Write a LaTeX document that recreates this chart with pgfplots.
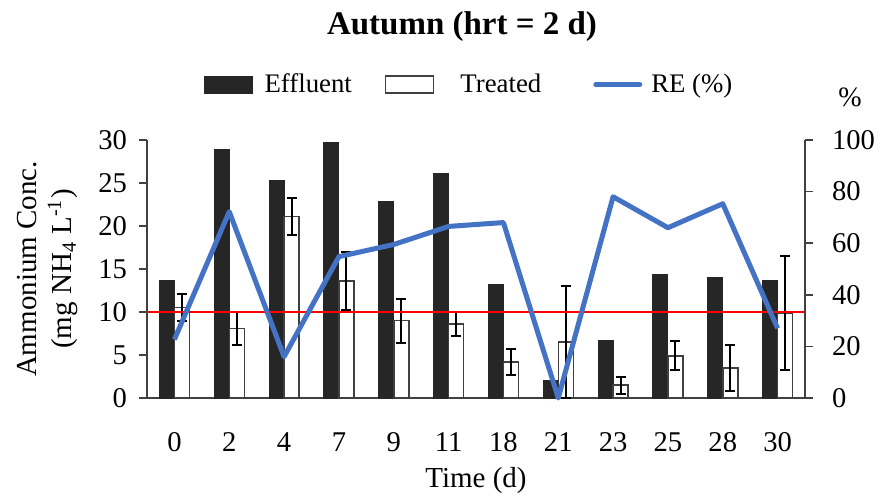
\documentclass[border=0pt]{standalone}
\usepackage{pgfplots}
\pgfplotsset{compat=1.18}
\usepackage{pgfplotstable}
\usepackage{fontspec}
\setmainfont{Liberation Serif}
\definecolor{reblue}{HTML}{4472C4}
\definecolor{barblack}{HTML}{262626}
\definecolor{axgray}{HTML}{404040}

\pgfplotstableread{
x e t te re
0 13.7 10.5 1.6 22.7
1 28.9 8.1 1.9 72.2
2 25.3 21.1 2.2 16.0
3 29.7 13.6 3.4 54.8
4 22.9 9.0 2.55 59.5
5 26.1 8.6 1.35 66.5
6 13.2 4.2 1.5 68.0
7 2.0 6.5 6.5 0.0
8 6.7 1.5 1.0 78.0
9 14.4 4.9 1.7 66.0
10 14.0 3.5 2.7 75.3
11 13.7 9.9 6.6 27.0
}\datatable

\begin{document}
\begin{tikzpicture}
\useasboundingbox (-73.5pt,-50pt) rectangle (367.5pt,199pt);
\begin{axis}[
  at={(0pt,0pt)}, anchor=south west,
  scale only axis, width=329pt, height=129pt,
  xmin=-0.5, xmax=11.5, ymin=0, ymax=30,
  axis x line*=bottom, axis y line*=left,
  axis line style={-, axgray, line width=0.75pt},
  xtick={0,...,11},
  xticklabels={0,2,4,7,9,11,18,21,23,25,28,30},
  major x tick style={draw=none},
  ytick={0,5,...,30},
  tick align=outside,
  major tick length=4pt,
  major y tick style={axgray, line width=0.75pt},
  /pgf/number format/assume math mode=true,
  ticklabel style={font=\fontsize{14.3}{16}\selectfont},
  xticklabel style={anchor=center, yshift=-18pt},
  yticklabel style={xshift=-2.5pt},
  ybar=0pt, bar width=7.5pt,
  xlabel={Time (d)},
  xlabel style={font=\fontsize{14.5}{17}\selectfont, at={(axis description cs:0.5,-0.32)}, anchor=center},
  ylabel={Ammonium Conc.\\(mg NH\textsubscript{4} L\textsuperscript{-1})},
  ylabel style={font=\fontsize{14.5}{17.5}\selectfont, align=center, at={(axis description cs:-0.151,0.5)}, anchor=center, rotate=0},
  legend columns=3,
  legend style={draw=none, fill=none, at={(0.5,1)}, anchor=south, yshift=18pt, xshift=-3pt,
    font=\fontsize{13.4}{15}\selectfont,
    /tikz/every even column/.append style={column sep=14.5pt}},
  legend image code/.code={\draw[#1] (0pt,-4.25pt) rectangle (24pt,4.25pt);},
]
\addplot[fill=barblack, draw=barblack, line width=0.5pt] table[x=x, y=e] {\datatable};
\addlegendentry{\hspace*{4pt}Effluent}
\addplot[fill=white, draw=axgray, line width=0.75pt,
  error bars/.cd, y dir=both, y explicit,
  error bar style={black, line width=1pt},
  error mark options={black, rotate=90, mark size=2.5pt, line width=1pt}]
  table[x=x, y=t, y error=te] {\datatable};
\addlegendentry{\hspace*{11pt}Treated\hspace*{9.5pt}}
\addlegendimage{legend image code/.code={\draw[reblue, line width=2.5pt, line cap=round] (0pt,0pt) -- (22pt,0pt);}}
\addlegendentry{\hspace*{2.5pt}RE (\%)}
\addplot[sharp plot, red, line width=1pt, forget plot] coordinates {(-0.5,10) (11.5,10)};
\end{axis}
\begin{axis}[
  at={(0pt,0pt)}, anchor=south west,
  scale only axis, width=329pt, height=129pt,
  xmin=-0.5, xmax=11.5, ymin=0, ymax=100,
  axis x line=none, axis y line*=right,
  axis line style={-, axgray, line width=0.75pt},
  ytick={0,20,...,100},
  tick align=outside,
  major tick length=4pt,
  major y tick style={axgray, line width=0.75pt},
  /pgf/number format/assume math mode=true,
  ticklabel style={font=\fontsize{14.3}{16}\selectfont},
  yticklabel style={xshift=6pt},
  clip=false,
]
\addplot[reblue, line width=2.5pt, line join=round] table[x=x, y=re] {\datatable};
\node[font=\fontsize{14}{16}\selectfont] at (rel axis cs:1,1) [xshift=22.5pt, yshift=21.5pt] {\%};
\end{axis}
\node[font=\bfseries\fontsize{16.5}{19}\selectfont] at (157.5pt,185.5pt) {Autumn (hrt = 2 d)};
\end{tikzpicture}
\end{document}
